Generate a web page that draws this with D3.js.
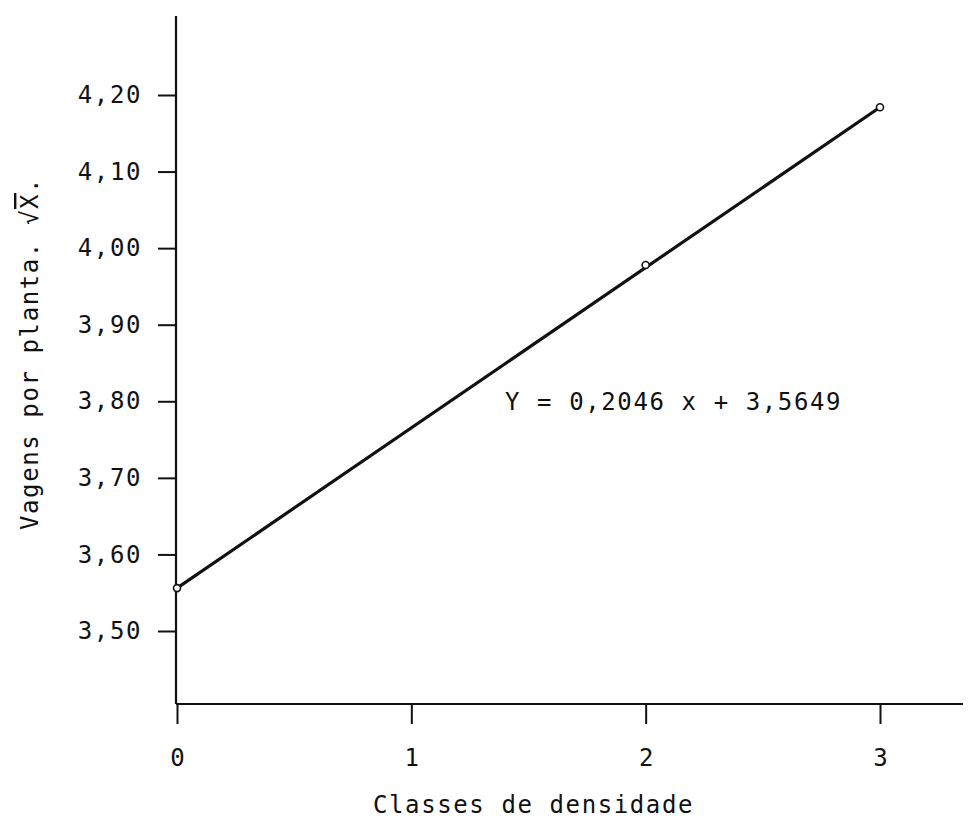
<!DOCTYPE html>
<html>
<head>
<meta charset="utf-8">
<script src="https://cdn.jsdelivr.net/npm/d3@7"></script>
<style>
  html, body { margin: 0; padding: 0; background: #fff; }
  svg { display: block; }
  text { font-family: "DejaVu Sans Mono", "Liberation Mono", monospace; fill: #111; }
</style>
</head>
<body>
<svg id="chart" width="969" height="832"></svg>
<script>
// ---- data ----
const xTickValues = [0, 1, 2, 3];
const xTickLabels = ["0", "1", "2", "3"];
const yTickValues = [3.5, 3.6, 3.7, 3.8, 3.9, 4.0, 4.1, 4.2];
const yTickLabels = ["3,50", "3,60", "3,70", "3,80", "3,90", "4,00", "4,10", "4,20"];
const pointClasses = [0, 2, 3];
const pointValues = [3.556, 3.978, 4.184];
const lineClasses = [0, 3];
const lineValues = [3.556, 4.184];
const equationText = "Y = 0,2046 x + 3,5649";
const xTitle = "Classes de densidade";
const yTitle = "Vagens por planta. ";
const yTitleRoot = "√";
const yTitleVar = "X";

// ---- layout ----
const svg = d3.select("#chart");
const fontSize = 24, spacing = 1.6;
const x = d3.scaleLinear().domain([0, 3]).range([177, 880]);
const y = d3.scaleLinear().domain([3.5, 4.2]).range([631, 95]);
const axisX = 176, axisY = 704;

// axis lines
svg.append("line").attr("x1", axisX).attr("x2", axisX).attr("y1", 16).attr("y2", axisY)
  .attr("stroke", "#111").attr("stroke-width", 2.2);
svg.append("line").attr("x1", axisX).attr("x2", 963).attr("y1", axisY).attr("y2", axisY)
  .attr("stroke", "#111").attr("stroke-width", 2.2);

// y axis
const gy = svg.append("g").attr("transform", `translate(${axisX},0)`)
  .call(d3.axisLeft(y).tickValues(yTickValues)
    .tickFormat((d, i) => yTickLabels[i]).tickSize(18).tickPadding(16).tickSizeOuter(0));
gy.select(".domain").remove();
gy.selectAll(".tick line").attr("stroke", "#111").attr("stroke-width", 2);
gy.selectAll(".tick text").attr("font-size", fontSize).attr("letter-spacing", spacing)
  .attr("font-family", "DejaVu Sans Mono").attr("fill", "#111");

// x axis
const gx = svg.append("g").attr("transform", `translate(0,${axisY})`)
  .call(d3.axisBottom(x).tickValues(xTickValues)
    .tickFormat((d, i) => xTickLabels[i]).tickSize(20).tickPadding(25).tickSizeOuter(0));
gx.select(".domain").remove();
gx.selectAll(".tick line").attr("stroke", "#111").attr("stroke-width", 2);
gx.selectAll(".tick text").attr("font-size", fontSize)
  .attr("font-family", "DejaVu Sans Mono").attr("fill", "#111");

// regression line
const lineData = lineClasses.map((c, i) => [c, lineValues[i]]);
svg.append("path").datum(lineData)
  .attr("d", d3.line().x(d => x(d[0])).y(d => y(d[1])))
  .attr("fill", "none").attr("stroke", "#111").attr("stroke-width", 3.2);

// points
const pts = pointClasses.map((c, i) => [c, pointValues[i]]);
svg.selectAll("circle.pt").data(pts).enter().append("circle").attr("class", "pt")
  .attr("cx", d => x(d[0])).attr("cy", d => y(d[1])).attr("r", 3.5)
  .attr("fill", "#fff").attr("stroke", "#111").attr("stroke-width", 1.6);

// equation
svg.append("text").attr("x", 505).attr("y", y(3.8)).attr("dy", "0.36em")
  .attr("font-size", fontSize).attr("letter-spacing", spacing)
  .attr("xml:space", "preserve").style("white-space", "pre")
  .text(equationText);

// x title
svg.append("text").attr("x", 373).attr("y", 813)
  .attr("font-size", fontSize).attr("letter-spacing", spacing)
  .text(xTitle);

// y title
const yt = svg.append("text").attr("transform", "translate(38,530) rotate(-90)")
  .attr("font-size", fontSize).attr("letter-spacing", spacing)
  .style("white-space", "pre");
yt.append("tspan").text(yTitle);
yt.append("tspan").text(yTitleRoot);
yt.append("tspan").attr("text-decoration", "overline").style("text-decoration", "overline").text(yTitleVar);
yt.append("tspan").text(".");
</script>
</body>
</html>
